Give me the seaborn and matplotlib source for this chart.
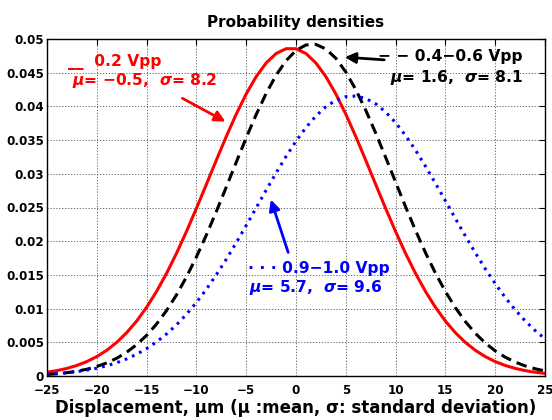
import numpy as np
import pandas as pd
import matplotlib
matplotlib.use("Agg")
import matplotlib.pyplot as plt
import seaborn as sns

# ---- data (density at integer displacements) ----
x_um = list(range(-25, 26))
red_02 = [0.000561, 0.000801, 0.001128, 0.001564, 0.002138, 0.002878, 0.003818, 0.004989,
          0.006425, 0.008151, 0.010189, 0.012547, 0.015222, 0.018196, 0.021432, 0.024868,
          0.028427, 0.032020, 0.035532, 0.038851, 0.041848, 0.044414, 0.046440, 0.047843,
          0.048560, 0.048560, 0.047843, 0.046440, 0.044414, 0.041848, 0.038851, 0.035532,
          0.032020, 0.028427, 0.024868, 0.021432, 0.018196, 0.015222, 0.012547, 0.010189,
          0.008151, 0.006425, 0.004989, 0.003818, 0.002878, 0.002138, 0.001564, 0.001128,
          0.000801, 0.000561, 0.000386]
black_0406 = [0.000224, 0.000334, 0.000489, 0.000707, 0.001004, 0.001407, 0.001941, 0.002637,
              0.003527, 0.004647, 0.006031, 0.007708, 0.009703, 0.012031, 0.014688, 0.017663,
              0.020920, 0.024401, 0.028033, 0.031713, 0.035339, 0.038782, 0.041917, 0.044620,
              0.046779, 0.048300, 0.049117, 0.049192, 0.048522, 0.047137, 0.045099, 0.042496,
              0.039438, 0.036046, 0.032448, 0.028766, 0.025119, 0.021600, 0.018294, 0.015259,
              0.012536, 0.010142, 0.008083, 0.006343, 0.004901, 0.003732, 0.002798, 0.002066,
              0.001502, 0.001076, 0.000759]
blue_0910 = [0.000250, 0.000347, 0.000476, 0.000647, 0.000869, 0.001155, 0.001518, 0.001974,
             0.002538, 0.003229, 0.004064, 0.005061, 0.006233, 0.007594, 0.009152, 0.010910,
             0.012867, 0.015011, 0.017322, 0.019773, 0.022330, 0.024944, 0.027563, 0.030125,
             0.032574, 0.034841, 0.036863, 0.038582, 0.039945, 0.040910, 0.041447, 0.041537,
             0.041178, 0.040381, 0.039173, 0.037590, 0.035682, 0.033506, 0.031122, 0.028596,
             0.025992, 0.023371, 0.020787, 0.018289, 0.015917, 0.013703, 0.011670, 0.009832,
             0.008193, 0.006753, 0.005508]
x_ticks = [-25, -20, -15, -10, -5, 0, 5, 10, 15, 20, 25]
y_ticks = [0, 0.005, 0.01, 0.015, 0.02, 0.025, 0.03, 0.035, 0.04, 0.045, 0.05]
y_ticklabels = ["0", "0.005", "0.01", "0.015", "0.02", "0.025", "0.03", "0.035", "0.04", "0.045", "0.05"]
x_ticklabels = ["\u221225", "\u221220", "\u221215", "\u221210", "\u22125", "0", "5", "10", "15", "20", "25"]

sns.set_style("white")
plt.rcParams['font.family'] = ['DejaVu Sans']
plt.rcParams['font.weight'] = 'bold'
plt.rcParams['mathtext.fontset'] = 'dejavusans'
plt.rcParams['text.color'] = 'black'
plt.rcParams['axes.labelcolor'] = 'black'
plt.rcParams['xtick.color'] = 'black'
plt.rcParams['ytick.color'] = 'black'

fig = plt.figure(figsize=(5.52, 4.2), dpi=100)
ax = fig.add_axes([47/552, 1-376/420, 498/552, 337/420])

df = pd.DataFrame({"x": x_um, "red": red_02, "black": black_0406, "blue": blue_0910})
sns.lineplot(data=df, x="x", y="red", color="red", lw=2.2, ax=ax)
sns.lineplot(data=df, x="x", y="black", color="black", lw=2.2, ax=ax, linestyle=(0, (3.5, 2)))
sns.lineplot(data=df, x="x", y="blue", color="blue", lw=2.2, ax=ax, linestyle=(0, (0.9, 1.7)))

ax.set_xlim(-25, 25)
ax.set_ylim(0, 0.05)
ax.set_xticks(x_ticks)
ax.set_xticklabels(x_ticklabels, fontsize=8.6, fontweight='bold')
ax.set_yticks(y_ticks)
ax.set_yticklabels(y_ticklabels, fontsize=8.6, fontweight='bold')
ax.tick_params(direction='in', length=4, width=0.8, top=True, right=True, colors='black')
ax.tick_params(axis='x', pad=6)
ax.tick_params(axis='y', pad=2)
ax.grid(True, linestyle=(0, (1.5, 2)), color='#555555', linewidth=0.6)
for s in ax.spines.values():
    s.set_visible(True)
    s.set_color('black')
    s.set_linewidth(1.0)

ax.set_title("Probability densities", fontsize=11, fontweight='bold', pad=9, color='black')
ax.set_xlabel("Displacement, \u03bcm (\u03bc :mean, \u03c3: standard deviation)",
              fontsize=12, fontweight='bold', labelpad=1, color='black')
ax.set_ylabel("")

MU = "$\\mathbfit{\\mu}$"
SG = "$\\mathbfit{\\sigma}$"
fs = 11.2
ax.text(-22.9, 0.04659, "__  0.2 Vpp", color='red', fontsize=fs, fontweight='bold', va='center', ha='left')
ax.text(-22.5, 0.04377, MU + "= \u22120.5,  " + SG + "= 8.2", color='red', fontsize=fs, fontweight='bold', va='center', ha='left')
ax.annotate("", xy=(-6.83, 0.03754), xytext=(-11.65, 0.0414),
            arrowprops=dict(arrowstyle='-|>', color='red', lw=2, mutation_scale=16))

ax.text(22.8, 0.04733, "\u2212 \u2212 0.4\u22120.6 Vpp", color='black', fontsize=fs, fontweight='bold', va='center', ha='right')
ax.text(22.8, 0.04436, MU + "= 1.6,  " + SG + "= 8.1", color='black', fontsize=fs, fontweight='bold', va='center', ha='right')
ax.annotate("", xy=(4.62, 0.04733), xytext=(9.14, 0.04688),
            arrowprops=dict(arrowstyle='-|>', color='black', lw=2, mutation_scale=16))

ax.text(-4.82, 0.01602, "\u00b7 \u00b7 \u00b7 0.9\u22121.0 Vpp", color='blue', fontsize=fs, fontweight='bold', va='center', ha='left')
ax.text(-4.72, 0.01306, MU + "= 5.7,  " + SG + "= 9.6", color='blue', fontsize=fs, fontweight='bold', va='center', ha='left')
ax.annotate("", xy=(-2.61, 0.02656), xytext=(-0.70, 0.01795),
            arrowprops=dict(arrowstyle='-|>', color='blue', lw=2, mutation_scale=16))

fig.savefig("out.png", dpi=100)
